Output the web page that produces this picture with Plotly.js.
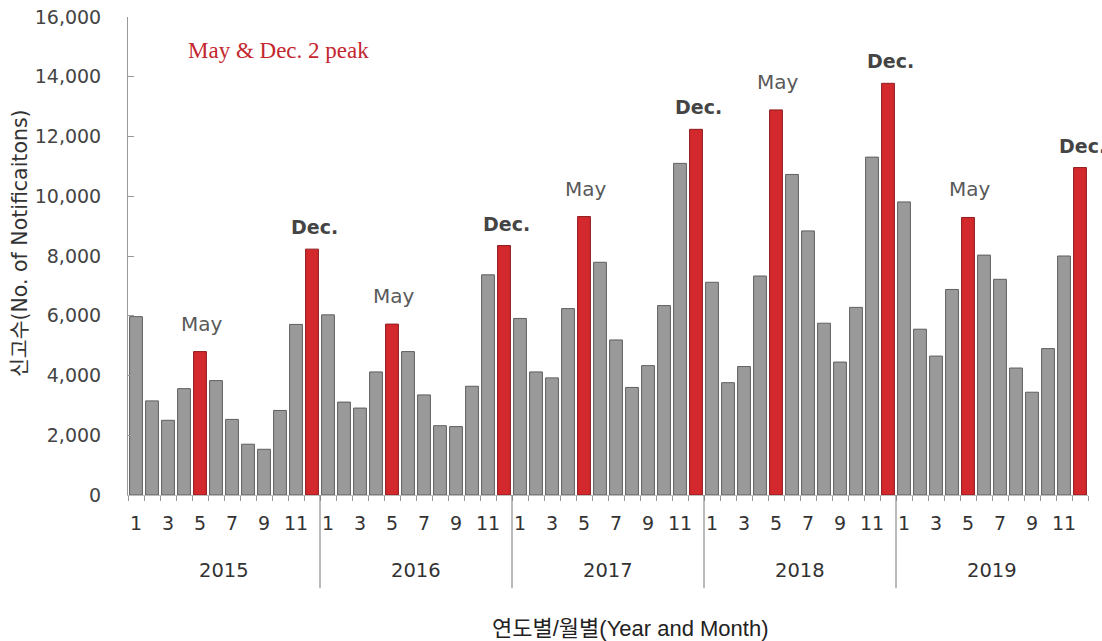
<!DOCTYPE html>
<html>
<head>
<meta charset="utf-8">
<script src="https://cdn.plot.ly/plotly-3.0.1.min.js"></script>
<style>html,body{margin:0;padding:0;background:#fff;}#chart{width:1102px;height:641px;}</style>
</head>
<body>
<div id="chart"></div>
<script>
// ---- data ----
var years = ["2015", "2016", "2017", "2018", "2019"];
var months = [1, 2, 3, 4, 5, 6, 7, 8, 9, 10, 11, 12];
var v2015 = [5970, 3150, 2500, 3560, 4800, 3830, 2530, 1700, 1530, 2830, 5710, 8230];
var v2016 = [6030, 3110, 2910, 4120, 5720, 4800, 3350, 2320, 2290, 3640, 7370, 8350];
var v2017 = [5910, 4120, 3920, 6240, 9320, 7790, 5190, 3600, 4330, 6340, 11100, 12240];
var v2018 = [7120, 3760, 4300, 7330, 12890, 10730, 8840, 5750, 4450, 6280, 11310, 13780];
var v2019 = [9810, 5550, 4650, 6880, 9290, 8030, 7220, 4250, 3440, 4900, 8000, 10960];
var peakMonths = [5, 12];
var peakLabels = {5: "May", 12: "Dec."};
var noteText = "May &amp; Dec. 2 peak";
var yTitle = "신고수(No. of Notificaitons)";
var xTitle = "연도별/월별(Year and Month)";
var yTicks = [0, 2000, 4000, 6000, 8000, 10000, 12000, 14000, 16000];

// ---- build ----
var series = [v2015, v2016, v2017, v2018, v2019];
var x = [], y = [], colors = [], lines = [];
var tickvals = [], ticktext = [];
var annotations = [], shapes = [];
var sans = "DejaVu Sans, Liberation Sans, Noto Sans CJK KR, sans-serif";
series.forEach(function (vals, yi) {
  vals.forEach(function (v, mi) {
    var idx = yi * 12 + mi;
    var m = months[mi];
    x.push(idx); y.push(v);
    var peak = peakMonths.indexOf(m) >= 0;
    colors.push(peak ? "#d3282c" : "#9a9a9a");
    lines.push(peak ? "#8e1a1d" : "#5f5f5f");
    if (m % 2 === 1) { tickvals.push(idx); ticktext.push(String(m)); }
    if (peak) {
      var isDec = m === 12;
      annotations.push({
        x: idx, y: v, xref: "x", yref: "y", showarrow: false,
        text: isDec ? "<b>" + peakLabels[m] + "</b>" : peakLabels[m],
        yanchor: "bottom", yshift: isDec ? 9 : 14, xshift: 2,
        font: {family: sans, size: isDec ? 19 : 20, color: isDec ? "#444444" : "#5a5a5a"}
      });
    }
  });
  annotations.push({
    x: yi * 12 + 5.5, xref: "x", y: 0, yref: "paper", yshift: -75,
    showarrow: false, text: years[yi], yanchor: "middle",
    font: {family: sans, size: 19.5, color: "#333333"}
  });
  if (yi > 0) {
    shapes.push({type: "line", xref: "x", yref: "paper", x0: yi * 12 - 0.5, x1: yi * 12 - 0.5,
      y0: 0, y1: -0.195, line: {color: "#777777", width: 1}});
  }
});
annotations.push({
  xref: "paper", yref: "paper", x: 0.0604, y: 0.93, xanchor: "left", yanchor: "middle",
  showarrow: false, text: noteText,
  font: {family: "Liberation Serif, DejaVu Serif, serif", size: 23, color: "#c4262e"}
});
annotations.push({
  xref: "paper", yref: "paper", x: 0.523, y: 0, yshift: -133, yanchor: "middle",
  showarrow: false, text: xTitle,
  font: {family: "Liberation Sans, Noto Sans CJK KR, sans-serif", size: 22, color: "#222222"}
});
annotations.push({
  xref: "paper", yref: "paper", x: 0, xshift: -108, y: 0.527, textangle: -90,
  xanchor: "center", yanchor: "middle", showarrow: false, text: yTitle,
  font: {family: sans, size: 20.5, color: "#333333"}
});

var trace = {
  type: "bar", x: x, y: y,
  marker: {color: colors, line: {color: lines, width: 1}},
  width: 0.8, hoverinfo: "y"
};

var layout = {
  width: 1102, height: 641,
  margin: {l: 128, r: 14, t: 17, b: 146},
  paper_bgcolor: "#ffffff", plot_bgcolor: "#ffffff",
  showlegend: false,
  xaxis: {
    range: [-0.5, 59.5], tickmode: "array", tickvals: tickvals, ticktext: ticktext,
    ticks: "", showline: true, linecolor: "#bbbbbb", linewidth: 1,
    showgrid: false, zeroline: false, ticklabelstandoff: 11,
    tickfont: {family: sans, size: 19, color: "#333333"},
    minor: {tick0: -0.5, dtick: 1, ticks: "outside", ticklen: 5, tickcolor: "#999999", tickwidth: 1, showgrid: false}
  },
  yaxis: {
    range: [0, 16000], tickmode: "array", tickvals: yTicks, tickformat: ",d",
    ticks: "inside", ticklen: 6, tickcolor: "#999999",
    showline: true, linecolor: "#999999", linewidth: 1,
    showgrid: false, zeroline: false, ticklabelstandoff: 22,
    tickfont: {family: sans, size: 19, color: "#444444"}
  },
  annotations: annotations,
  shapes: shapes
};

Plotly.newPlot("chart", [trace], layout, {displayModeBar: false, staticPlot: true});
</script>
</body>
</html>
